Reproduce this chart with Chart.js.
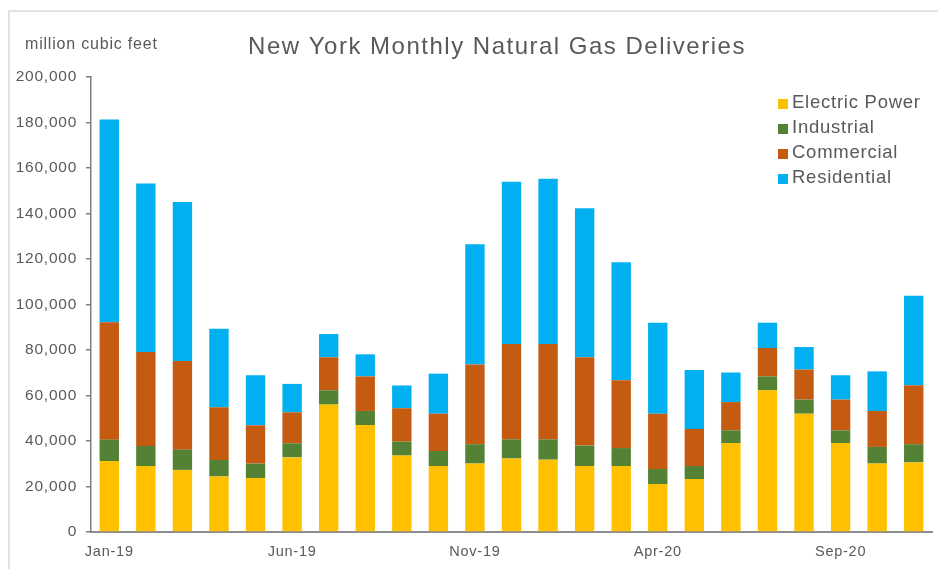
<!DOCTYPE html>
<html>
<head>
<meta charset="utf-8">
<script src="https://cdn.jsdelivr.net/npm/chart.js@4/dist/chart.umd.min.js"></script>
<style>
    html, body { margin: 0; padding: 0; background: #ffffff; }
    #wrap { width: 938px; height: 569px; position: relative; }
</style>
</head>
<body>
<div id="wrap"><canvas id="gasChart" width="938" height="569"></canvas></div>
<script>
const months = [
    "Jan-19", "Feb-19", "Mar-19", "Apr-19", "May-19", "Jun-19", "Jul-19", "Aug-19",
    "Sep-19", "Oct-19", "Nov-19", "Dec-19", "Jan-20", "Feb-20", "Mar-20", "Apr-20",
    "May-20", "Jun-20", "Jul-20", "Aug-20", "Sep-20", "Oct-20", "Nov-20"
];

// million cubic feet
const electricPower = [31200, 29000, 27300, 24400, 23700, 32800, 56000, 47000, 33600, 29000, 30100, 32300,
    31800, 29000, 29000, 21100, 23300, 39100, 62300, 52000, 39100, 30100, 30600];
const industrial = [9400, 8800, 8900, 7300, 6400, 6200, 6300, 6200, 6100, 6600, 8500, 8400,
    8900, 9000, 7900, 6600, 5700, 5600, 6100, 6200, 5600, 7300, 8000];
const commercial = [51600, 41300, 39000, 23100, 16800, 13600, 14500, 15200, 14700, 16400, 35000, 41900,
    41900, 38800, 29800, 24300, 16300, 12400, 12500, 13200, 13500, 15800, 25900];
const residential = [89100, 74100, 69900, 34500, 22000, 12500, 10200, 9700, 10000, 17600, 52900, 71400,
    72700, 65500, 51900, 40000, 25900, 13000, 11100, 9900, 10700, 17400, 39400];

const yTicks = [0, 20000, 40000, 60000, 80000, 100000, 120000, 140000, 160000, 180000, 200000];

const textGrey = "#595959";
const fontFamily = "'Liberation Sans', Arial, sans-serif";

// frame, title, unit label and legend drawn on the canvas
const decorPlugin = {
    id: "decor",
    beforeDraw(chart) {
        const ctx = chart.ctx;
        ctx.save();
        ctx.fillStyle = "#ffffff";
        ctx.fillRect(0, 0, chart.width, chart.height);
        ctx.strokeStyle = "#e3e3e3";
        ctx.lineWidth = 2;
        ctx.beginPath();
        ctx.moveTo(9, chart.height);
        ctx.lineTo(9, 11);
        ctx.lineTo(chart.width, 11);
        ctx.stroke();
        ctx.restore();
        // wider spacing for the axis labels, like the original
        ctx.letterSpacing = "0.75px";
    },
    afterDraw(chart) {
        const ctx = chart.ctx;
        ctx.save();
        ctx.fillStyle = textGrey;
        ctx.textBaseline = "middle";

        ctx.font = "24px " + fontFamily;
        ctx.letterSpacing = "1.5px";
        ctx.textAlign = "center";
        ctx.fillText("New York Monthly Natural Gas Deliveries", 497, 47);

        ctx.font = "16px " + fontFamily;
        ctx.letterSpacing = "0.8px";
        ctx.textAlign = "left";
        ctx.fillText("million cubic feet", 25, 45);

        ctx.font = "18.5px " + fontFamily;
        ctx.letterSpacing = "0.75px";
        chart.data.datasets.forEach((ds, i) => {
            const y = 102 + i * 25;
            ctx.fillStyle = ds.backgroundColor;
            ctx.fillRect(778, y - 3, 10, 10);
            ctx.fillStyle = textGrey;
            ctx.fillText(ds.label, 792, y + 1);
        });
        ctx.restore();
    }
};

new Chart(document.getElementById("gasChart"), {
    type: "bar",
    data: {
        labels: months,
        datasets: [
            { label: "Electric Power", data: electricPower, backgroundColor: "#FFC000" },
            { label: "Industrial", data: industrial, backgroundColor: "#548235" },
            { label: "Commercial", data: commercial, backgroundColor: "#C55A11" },
            { label: "Residential", data: residential, backgroundColor: "#00B0F0" }
        ]
    },
    options: {
        responsive: false,
        animation: false,
        devicePixelRatio: 1,
        layout: {
            padding: { top: 77, right: 6, left: 0, bottom: 0 }
        },
        datasets: {
            bar: { barPercentage: 0.53, categoryPercentage: 1.0 }
        },
        plugins: {
            legend: { display: false },
            tooltip: { enabled: false }
        },
        scales: {
            x: {
                stacked: true,
                afterFit: scale => { scale.height = 37; },
                grid: { display: false, drawTicks: false },
                border: { display: true, color: "#8c8c8c", width: 2 },
                ticks: {
                    color: textGrey,
                    font: { family: fontFamily, size: 14.5 },
                    padding: 11,
                    autoSkip: false,
                    maxRotation: 0,
                    callback: (value, index) => index % 5 === 0 ? months[index] : ""
                }
            },
            y: {
                stacked: true,
                min: 0,
                max: 200000,
                afterFit: scale => { scale.width = 91; },
                afterBuildTicks: scale => { scale.ticks = yTicks.map(v => ({ value: v })); },
                grid: { display: true, drawOnChartArea: false, drawTicks: true, tickLength: 5, color: "#7f7f7f", lineWidth: 1.5 },
                border: { display: true, color: "#7f7f7f", width: 1.5 },
                ticks: {
                    color: textGrey,
                    font: { family: fontFamily, size: 15.5 },
                    padding: 9,
                    callback: value => value.toLocaleString("en-US")
                }
            }
        }
    },
    plugins: [decorPlugin]
});
</script>
</body>
</html>
